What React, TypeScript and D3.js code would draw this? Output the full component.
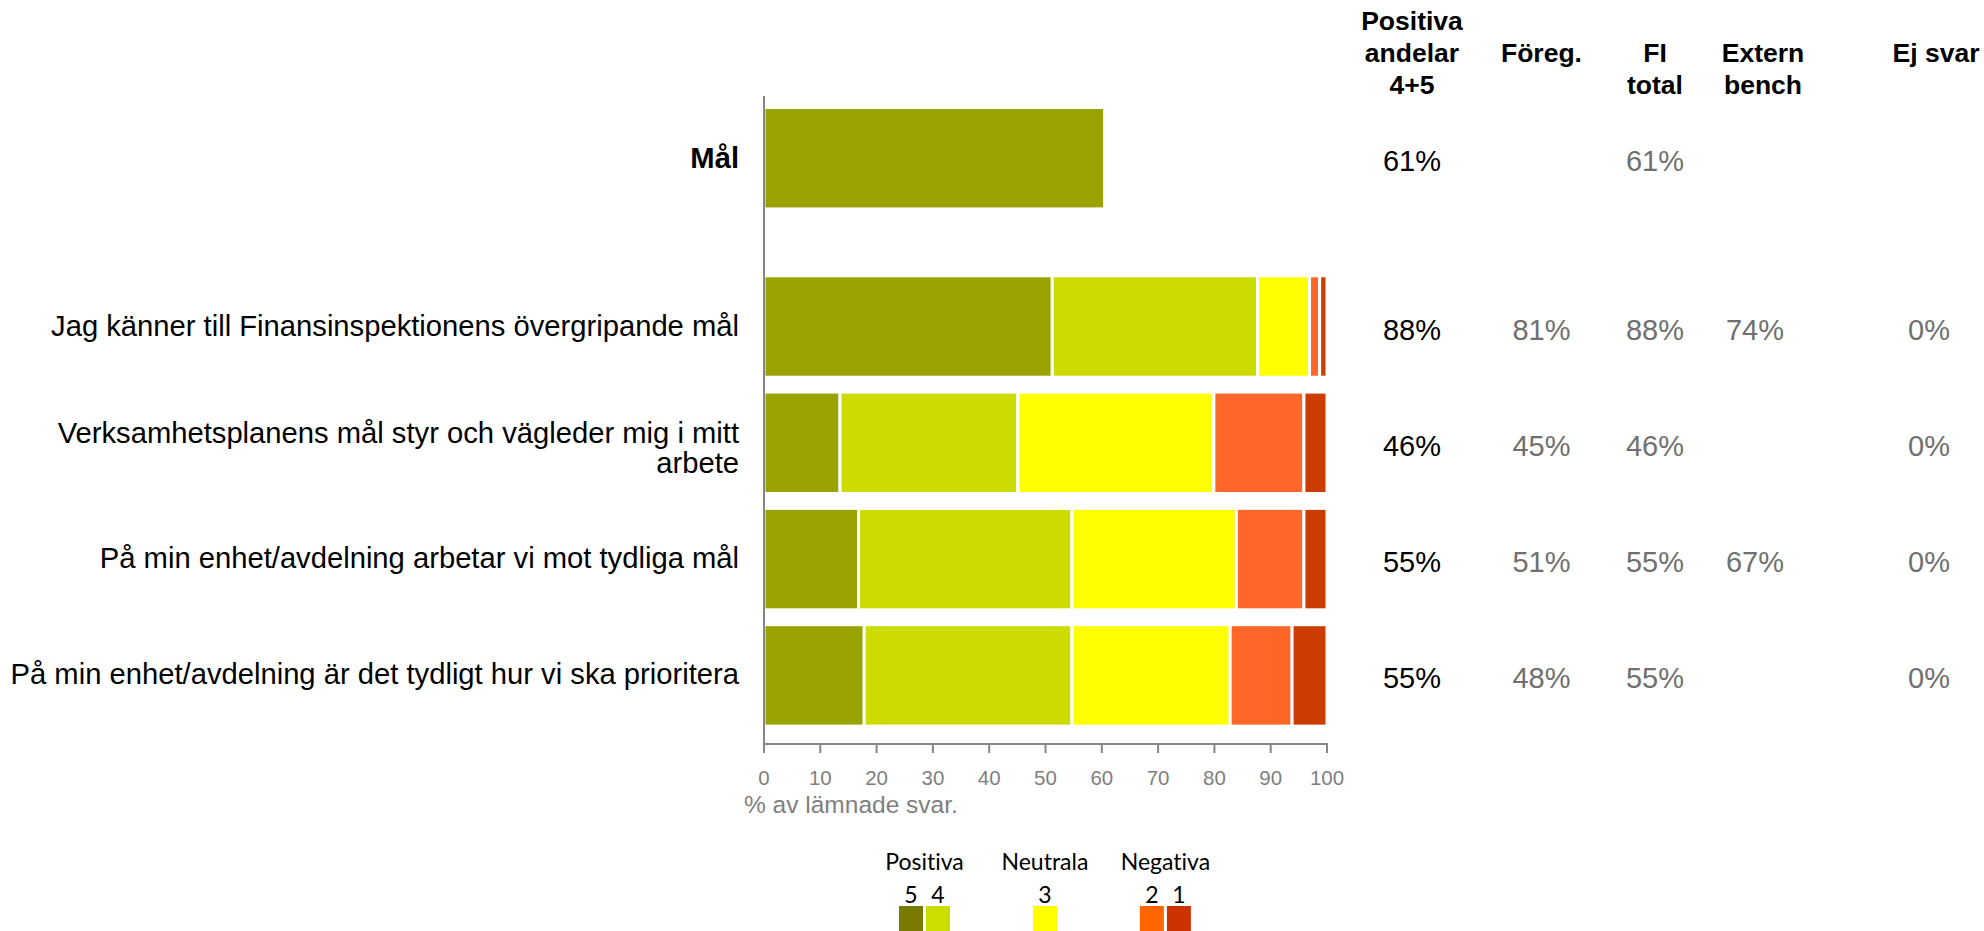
import * as d3 from "d3";

// ---- data ----
const maalLabel = "Mål";
const maalValue = 60.5;

const questions = [
  "Jag känner till Finansinspektionens övergripande mål",
  "Verksamhetsplanens mål styr och vägleder mig i mitt arbete",
  "På min enhet/avdelning arbetar vi mot tydliga mål",
  "På min enhet/avdelning är det tydligt hur vi ska prioritera",
];
// how the labels wrap in the original
const questionLines = [
  ["Jag känner till Finansinspektionens övergripande mål"],
  ["Verksamhetsplanens mål styr och vägleder mig i mitt", "arbete"],
  ["På min enhet/avdelning arbetar vi mot tydliga mål"],
  ["På min enhet/avdelning är det tydligt hur vi ska prioritera"],
];

const keys = ["5", "4", "3", "2", "1"];
const s5 = [51.2, 13.5, 16.8, 17.8];
const s4 = [36.5, 31.6, 37.9, 36.9];
const s3 = [9.2, 34.8, 29.2, 28.1];
const s2 = [1.8, 16.0, 12.0, 11.0];
const s1 = [1.3, 4.1, 4.1, 6.2];

const barColors = ["#98a200", "#ccdb00", "#ffff00", "#ff6628", "#cc3b00"];
const legendColors = ["#7a7a00", "#ccdd00", "#ffff00", "#ff6600", "#cc3300"];

const tableHeaders = [
  ["Positiva", "andelar", "4+5"],
  ["Föreg."],
  ["FI", "total"],
  ["Extern", "bench"],
  ["Ej svar"],
];
// first entry = "Mål" row
const positiva = ["61%", "88%", "46%", "55%", "55%"];
const foreg = ["", "81%", "45%", "51%", "48%"];
const fiTotal = ["61%", "88%", "46%", "55%", "55%"];
const externBench = ["", "74%", "", "67%", ""];
const ejSvar = ["", "0%", "0%", "0%", "0%"];

const xTicks = [0, 10, 20, 30, 40, 50, 60, 70, 80, 90, 100];
const axisTitle = "% av lämnade svar.";

const legendGroups = ["Positiva", "Neutrala", "Negativa"];
const legendGroupKeys = [["5", "4"], ["3"], ["2", "1"]];

// ---- layout ----
const W = 1984;
const H = 931;
const FONT = "'Liberation Sans', Arial, sans-serif";
const LABEL_SIZE = 29.2;

export default function App() {
  const x = d3.scaleLinear().domain([0, 100]).range([764, 1327]);

  const yQ = d3
    .scaleBand<string>()
    .domain(questions)
    .range([268.35, 733.55])
    .paddingInner(0.128)
    .paddingOuter(0.064);
  const bw = yQ.bandwidth();
  const step = yQ.step();
  const firstTop = yQ(questions[0]) as number;
  // the "Mål" summary bar sits a bit further above the questions
  const maalTop = firstTop - 1.447 * step;
  const maalCenter = maalTop + bw / 2;
  const rowCenters = [maalCenter, ...questions.map((q) => (yQ(q) as number) + bw / 2)];

  const rows = questions.map((q, i) => ({
    q,
    "5": s5[i],
    "4": s4[i],
    "3": s3[i],
    "2": s2[i],
    "1": s1[i],
  }));
  const stacked = d3.stack<any>().keys(keys)(rows);
  const color = d3.scaleOrdinal<string, string>().domain(keys).range(barColors);
  const legendColor = d3.scaleOrdinal<string, string>().domain(keys).range(legendColors);

  const axisY = 744;
  const axisTop = 96;

  const columns = [positiva, foreg, fiTotal, externBench, ejSvar];
  const headerX = [1412, 1541.5, 1655, 1763, 1936];
  const valueX = [1412, 1541.5, 1655, 1755, 1929];

  const legendX = d3.scalePoint<string>().domain(legendGroups).range([924.5, 1165.4]);
  const sq = 24;
  const sqGap = 3;

  return (
    <svg
      width={W}
      height={H}
      style={{ position: "absolute", left: 0, top: 0, display: "block", background: "#fff" }}
      fontFamily={FONT}
    >
      {/* Mål summary bar */}
      <rect
        x={x(0)}
        y={maalTop}
        width={x(maalValue) - x(0)}
        height={bw}
        fill={barColors[0]}
        stroke="#fff"
        strokeWidth={3}
      />

      {/* stacked bars */}
      {stacked.map((layer) => (
        <g key={layer.key} fill={color(layer.key)}>
          {layer.map((d, i) => (
            <rect
              key={i}
              x={x(d[0])}
              y={yQ(questions[i])}
              width={x(d[1]) - x(d[0])}
              height={bw}
              stroke="#fff"
              strokeWidth={3}
            />
          ))}
        </g>
      ))}

      {/* category labels */}
      <text x={739} y={maalCenter + 10} textAnchor="end" fontSize={LABEL_SIZE} fontWeight="bold" fill="#000">
        {maalLabel}
      </text>
      {questionLines.map((lines, i) => (
        <text key={i} textAnchor="end" fontSize={LABEL_SIZE} fill="#000">
          {lines.map((ln, j) => (
            <tspan
              key={j}
              x={739}
              y={rowCenters[i + 1] + 9 + (lines.length > 1 ? 6 : 0) + (j - (lines.length - 1) / 2) * 30.5}
            >
              {ln}
            </tspan>
          ))}
        </text>
      ))}

      {/* axes */}
      <line x1={x(0)} x2={x(0)} y1={axisTop} y2={axisY} stroke="#868686" strokeWidth={2} />
      <line x1={x(0) - 1} x2={x(100) + 1} y1={axisY} y2={axisY} stroke="#868686" strokeWidth={2} />
      {xTicks.map((t) => (
        <g key={t}>
          <line x1={x(t)} x2={x(t)} y1={axisY} y2={axisY + 9} stroke="#868686" strokeWidth={2} />
          <text x={x(t)} y={785} textAnchor="middle" fontSize={20.5} fill="#7f7f7f">
            {t}
          </text>
        </g>
      ))}
      <text x={744} y={813} fontSize={24.5} fill="#7f7f7f">
        {axisTitle}
      </text>

      {/* table headers */}
      {tableHeaders.map((lines, c) => {
        const start = lines.length === 3 ? 0 : 1;
        return (
          <text key={c} textAnchor="middle" fontSize={26.5} fontWeight="bold" fill="#000">
            {lines.map((ln, j) => (
              <tspan key={j} x={headerX[c]} y={29.5 + (start + j) * 32}>
                {ln}
              </tspan>
            ))}
          </text>
        );
      })}

      {/* table values */}
      {columns.map((col, c) =>
        col.map((v, r) =>
          v ? (
            <text
              key={`${c}-${r}`}
              x={valueX[c]}
              y={rowCenters[r] + 13}
              textAnchor="middle"
              fontSize={29}
              fill={c === 0 ? "#000" : "#707070"}
            >
              {v}
            </text>
          ) : null
        )
      )}

      {/* legend */}
      {legendGroups.map((g, gi) => {
        const ks = legendGroupKeys[gi];
        const cx = legendX(g) as number;
        const total = ks.length * sq + (ks.length - 1) * sqGap;
        const x0 = cx - total / 2;
        return (
          <g
            key={g}
            fontFamily="Lato, 'Open Sans', sans-serif"
            fontSize={23}
            style={{ fontVariantLigatures: "none" }}
          >
            <text x={cx} y={870} textAnchor="middle" fill="#000">
              {g}
            </text>
            {ks.map((k, ki) => {
              const sx = x0 + ki * (sq + sqGap);
              return (
                <g key={k}>
                  <text x={sx + sq / 2} y={902.5} textAnchor="middle" fill="#000">
                    {k}
                  </text>
                  <rect x={sx} y={906} width={sq} height={30} fill={legendColor(k)} />
                </g>
              );
            })}
          </g>
        );
      })}
    </svg>
  );
}
